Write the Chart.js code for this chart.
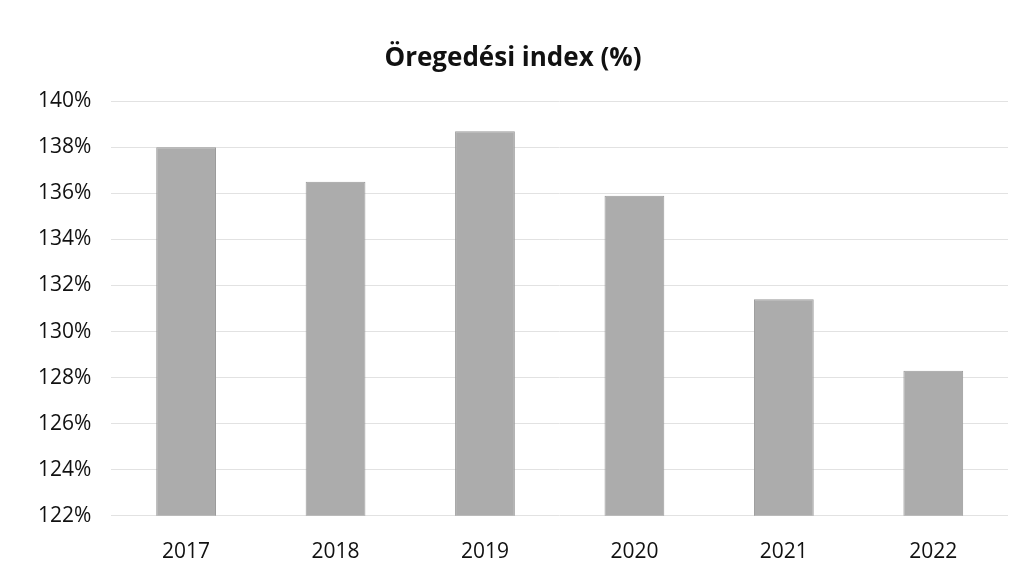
<!DOCTYPE html>
<html>
<head>
<meta charset="utf-8">
<script src="https://cdn.jsdelivr.net/npm/chart.js@4"></script>
<style>
  html, body { margin: 0; padding: 0; background: #fff; }
  #wrap { width: 1030px; height: 566px; }
</style>
</head>
<body>
<div id="wrap"><canvas id="barChart" width="1030" height="566"></canvas></div>
<script>
const years = ['2017', '2018', '2019', '2020', '2021', '2022'];
const agingIndex = [138.0, 136.5, 138.7, 135.9, 131.4, 128.3];
const yMin = 122;
const yMax = 140;
const yStep = 2;

const ctx = document.getElementById('barChart').getContext('2d');
new Chart(ctx, {
  type: 'bar',
  data: {
    labels: years,
    datasets: [{
      label: 'Öregedési index (%)',
      data: agingIndex,
      backgroundColor: '#acacac',
      borderColor: '#9a9a9a',
      borderWidth: 1,
      categoryPercentage: 1,
      barPercentage: 0.4
    }]
  },
  options: {
    responsive: false,
    animation: false,
    layout: { padding: { left: 18, right: 22, top: 0, bottom: -15 } },
    plugins: {
      legend: { display: false },
      tooltip: { enabled: false },
      title: {
        display: true,
        text: 'Öregedési index (%)',
        color: '#111',
        font: { family: 'Open Sans', size: 26, weight: 'bold' },
        padding: { top: 43, bottom: 27 }
      }
    },
    scales: {
      x: {
        grid: { display: false },
        border: { display: false },
        ticks: {
          color: '#111',
          font: { family: 'Open Sans', size: 21 },
          padding: 16
        }
      },
      y: {
        min: yMin,
        max: yMax,
        grid: { color: '#e2e2e2', lineWidth: 1, drawTicks: false },
        border: { display: false },
        ticks: {
          stepSize: yStep,
          color: '#111',
          padding: 20,
          font: { family: 'Open Sans', size: 21 },
          callback: v => v + '%'
        }
      }
    }
  }
});
</script>
</body>
</html>
